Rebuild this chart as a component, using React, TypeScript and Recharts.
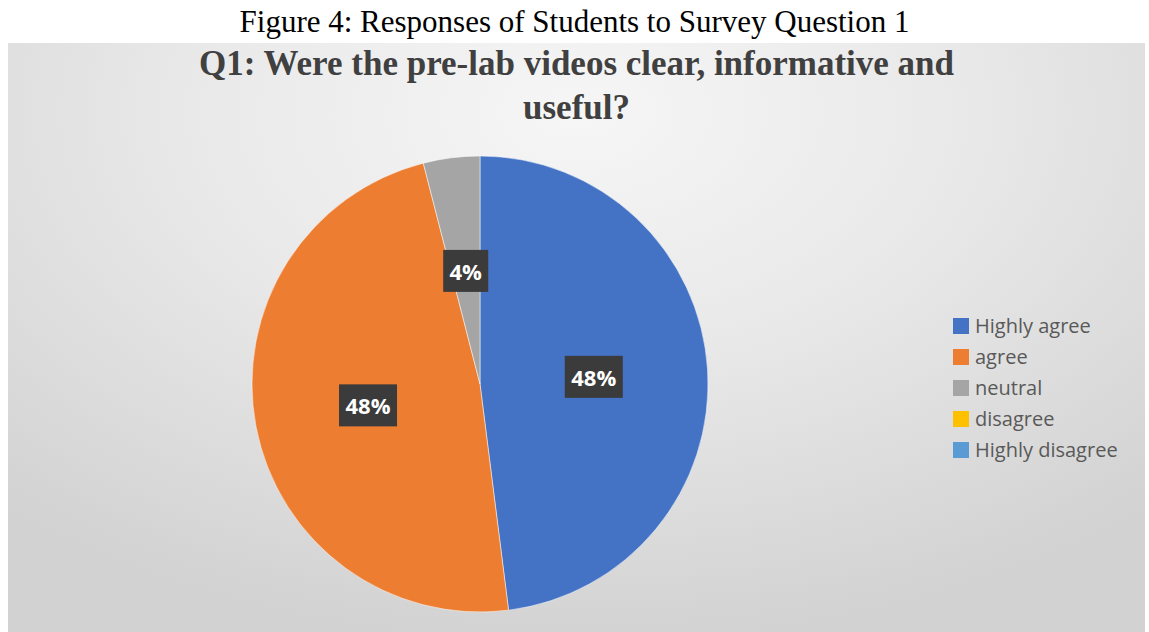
import { PieChart, Pie, Cell, Legend } from "recharts";

const categories = ["Highly agree", "agree", "neutral", "disagree", "Highly disagree"];
const percentages = [48, 48, 4, 0, 0];
const sliceColors = ["#4472C4", "#ED7D31", "#A5A5A5", "#FFC000", "#5B9BD5"];

const data = categories.map((name, i) => ({ name, value: percentages[i] }));

const RADIAN = Math.PI / 180;

const renderLabel = (props: any) => {
  const { cx, cy, midAngle, outerRadius, value } = props;
  if (!value) return null;
  const r = outerRadius * 0.5;
  const x = cx + r * Math.cos(-midAngle * RADIAN);
  const y = cy + r * Math.sin(-midAngle * RADIAN);
  const text = `${value}%`;
  const w = text.length * 13 + 19;
  const h = 42;
  return (
    <g>
      <rect x={x - w / 2} y={y - h / 2} width={w} height={h} fill="#3b3b3b" />
      <text
        x={x}
        y={y}
        textAnchor="middle"
        dominantBaseline="central"
        fill="#ffffff"
        fontFamily="'Open Sans', sans-serif"
        fontWeight={700}
        fontSize={22}
      >
        {text}
      </text>
    </g>
  );
};

const renderLegend = () => (
  <div style={{ fontFamily: "'Open Sans', sans-serif", fontSize: 20, color: "#595959" }}>
    {categories.map((c, i) => (
      <div key={c} style={{ display: "flex", alignItems: "center", height: 31 }}>
        <span
          style={{ display: "inline-block", width: 16, height: 16, background: sliceColors[i], marginRight: 6 }}
        />
        <span>{c}</span>
      </div>
    ))}
  </div>
);

export default function App() {
  return (
    <div style={{ position: "absolute", left: 0, top: 0, width: 1149, height: 632, background: "#fff" }}>
      <div
        style={{
          position: "absolute",
          left: 0,
          top: 6,
          width: 1149,
          textAlign: "center",
          fontFamily: "'Liberation Serif', 'Times New Roman', serif",
          fontSize: 31,
          lineHeight: "31px",
          color: "#000",
        }}
      >
        Figure 4: Responses of Students to Survey Question 1
      </div>
      <div
        style={{
          position: "absolute",
          left: 8,
          top: 43,
          width: 1137,
          height: 589,
          background: "radial-gradient(ellipse 75% 90% at 50% 12%, #f6f6f6 0%, #e9e9e9 45%, #d2d2d2 100%)",
        }}
      >
        <div
          style={{
            position: "absolute",
            left: 0,
            top: -1,
            width: 1137,
            textAlign: "center",
            fontFamily: "'Liberation Serif', 'Times New Roman', serif",
            fontWeight: 700,
            fontSize: 35,
            lineHeight: "44px",
            color: "#404040",
          }}
        >
          Q1: Were the pre-lab videos clear, informative and
          <br />
          useful?
        </div>
        <PieChart width={1137} height={589} margin={{ top: 0, right: 0, bottom: 0, left: 0 }}>
          <Pie
            data={data}
            dataKey="value"
            nameKey="name"
            cx={472}
            cy={341}
            outerRadius={228}
            startAngle={90}
            endAngle={-270}
            label={renderLabel}
            labelLine={false}
            isAnimationActive={false}
          >
            {data.map((d, i) => (
              <Cell key={d.name} fill={sliceColors[i]} stroke={d.value > 0 ? "#ffffff" : "none"} strokeWidth={0.5} />
            ))}
          </Pie>
          <Legend
            content={renderLegend}
            wrapperStyle={{ position: "absolute", left: 945, top: 267, width: 190 }}
          />
        </PieChart>
      </div>
    </div>
  );
}
